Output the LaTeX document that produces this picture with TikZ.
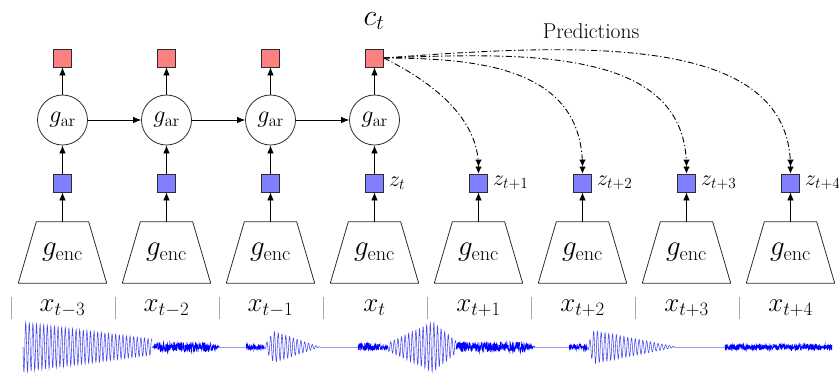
\RequirePackage{fix-cm}
\documentclass[tikz,border=0pt]{standalone}
\usetikzlibrary{shapes.geometric,arrows.meta}
\definecolor{redbox}{RGB}{255,128,128}
\definecolor{bluebox}{RGB}{128,128,255}
\definecolor{edgec}{RGB}{45,45,45}
\definecolor{wave}{RGB}{0,0,255}
\definecolor{wavel}{RGB}{70,70,235}
\definecolor{waveflat}{RGB}{160,160,230}
\begin{document}
\begin{tikzpicture}[x=1pt,y=-1pt,
  ctxbox/.style={draw=edgec, fill=redbox, line width=0.8pt, minimum size=18pt, inner sep=0pt},
  latbox/.style={draw=edgec, fill=bluebox, line width=0.8pt, minimum size=18pt, inner sep=0pt},
  arnode/.style={circle, draw=edgec, line width=0.8pt, minimum size=50pt, inner sep=0pt, font=\fontsize{24}{26}\selectfont},
  encnode/.style={rectangle, minimum width=88pt, minimum height=61pt, inner sep=0pt, font=\fontsize{29}{31}\selectfont},
  encline/.style={draw=edgec, line width=0.8pt, line join=miter},
  flow/.style={-{Latex[length=8pt,width=6.5pt]}, line width=0.8pt, draw=black},
  pred/.style={-{Latex[length=7pt,width=6.5pt]Latex[length=7pt,width=6.5pt]}, dash pattern=on 6pt off 2.5pt on 1.2pt off 2.5pt, line width=0.9pt, draw=black},
  xlab/.style={font=\fontsize{27}{29}\selectfont, inner sep=0pt},
  zlab/.style={anchor=west, font=\fontsize{22}{24}\selectfont, inner sep=0pt},
  sepbar/.style={draw=gray!70, line width=1.2pt},
  wavestyle/.style={line width=0.55pt}
]
\useasboundingbox (0,0) rectangle (839,373);

% columns
\foreach \i/\s in {0/t-3,1/t-2,2/t-1,3/t,4/t+1,5/t+2,6/t+3,7/t+4}{
  \pgfmathsetmacro\cx{62.5+104*\i}
  \node[encnode] (e\i) at (\cx,252.5) {$g_{\mathrm{enc}}$};
  \draw[encline] (e\i.south west) -- (e\i.south east) -- ([xshift=-18pt]e\i.north east) -- ([xshift=18pt]e\i.north west) -- cycle;
  \node[latbox] (z\i) at (\cx,183) {};
  \draw[flow] (e\i.north) -- (z\i.south);
  \node[xlab] (x\i) at (\cx,308) {$x_{\s}$};
  \pgfmathsetmacro\bx{11.5+104*\i}
  \draw[sepbar] (\bx,297) -- (\bx,319);
}
\foreach \i in {0,...,3}{
  \pgfmathsetmacro\cx{62.5+104*\i}
  \node[arnode] (a\i) at (\cx,120) {$g_{\mathrm{ar}}$};
  \node[ctxbox] (c\i) at (\cx,58) {};
  \draw[flow] (z\i.north) -- (a\i.south);
  \draw[flow] (a\i.north) -- (c\i.south);
}
\draw[flow] (a0.east) -- (a1.west);
\draw[flow] (a1.east) -- (a2.west);
\draw[flow] (a2.east) -- (a3.west);

% z labels
\node[zlab] (l3) at ([xshift=5pt]z3.east) {$z_{t}$};
\node[zlab] (l4) at ([xshift=5pt]z4.east) {$z_{t+1}$};
\node[zlab] (l5) at ([xshift=5pt]z5.east) {$z_{t+2}$};
\node[zlab] (l6) at ([xshift=5pt]z6.east) {$z_{t+3}$};
\node[zlab] (l7) at ([xshift=5pt]z7.east) {$z_{t+4}$};

% context label and predictions
\node[font=\fontsize{30}{32}\selectfont, inner sep=0pt] (ct) at (374,21) {$c_t$};
\node[font=\fontsize{21.5}{23}\selectfont, inner sep=0pt] (predlab) at (591,31) {Predictions};

\draw[pred] (c3.east) .. controls +(40,20) and +(0,-60) .. (z4.north);
\draw[pred] (c3.east) .. controls +(100,0) and +(0,-104) .. (z5.north);
\draw[pred] (c3.east) .. controls +(150,-6) and +(0,-124) .. (z6.north);
\draw[pred] (c3.east) .. controls +(200,-15) and +(0,-140) .. (z7.north);

% waveform
\draw[wavestyle, draw=wavel] plot[domain=23:152, samples=520] (\x, {347 + (25-17*(\x-23)/129)*sin((\x-23)*100)});
\draw[wavestyle, draw=wave] plot[domain=152:220, samples=320] (\x, {347 + 5*min(1,(\x-152)/8)*min(1,(220-\x)/10)*rand});
\draw[wavestyle, draw=waveflat, line width=0.7pt] (220,347) -- (246,347);
\draw[wavestyle, draw=wave] plot[domain=246:264, samples=90] (\x, {347 + 3*rand});
\draw[wavestyle, draw=wavel] plot[domain=264:320, samples=240] (\x, {347 + 19*min(1,(\x-264)/10)*((320-\x)/56)*sin((\x-264)*95)});
\draw[wavestyle, draw=waveflat, line width=0.7pt] (320,347) -- (358,347);
\draw[wavestyle, draw=wave] plot[domain=358:388, samples=150] (\x, {347 + 4*min(1,(388-\x)/25+0.4)*rand});
\draw[wavestyle, draw=wavel] plot[domain=388:456, samples=300] (\x, {347 + ((\x<433) ? (4+21*(\x-388)/45) : (25-19*(\x-433)/23))*sin((\x-388)*100)});
\draw[wavestyle, draw=wave] plot[domain=456:535, samples=380] (\x, {347 + 5.5*min(1,(535-\x)/10)*rand});
\draw[wavestyle, draw=waveflat, line width=0.7pt] (535,347) -- (569,347);
\draw[wavestyle, draw=wave] plot[domain=569:587, samples=90] (\x, {347 + 3*rand});
\draw[wavestyle, draw=wavel] plot[domain=587:676, samples=380] (\x, {347 + 18*min(1,(\x-587)/7)*((677-\x)/90)*sin((\x-587)*95)});
\draw[wavestyle, draw=waveflat, line width=0.7pt] (676,347) -- (725,347);
\draw[wavestyle, draw=wave] plot[domain=725:832, samples=500] (\x, {347 + 3*rand});
\end{tikzpicture}
\end{document}
